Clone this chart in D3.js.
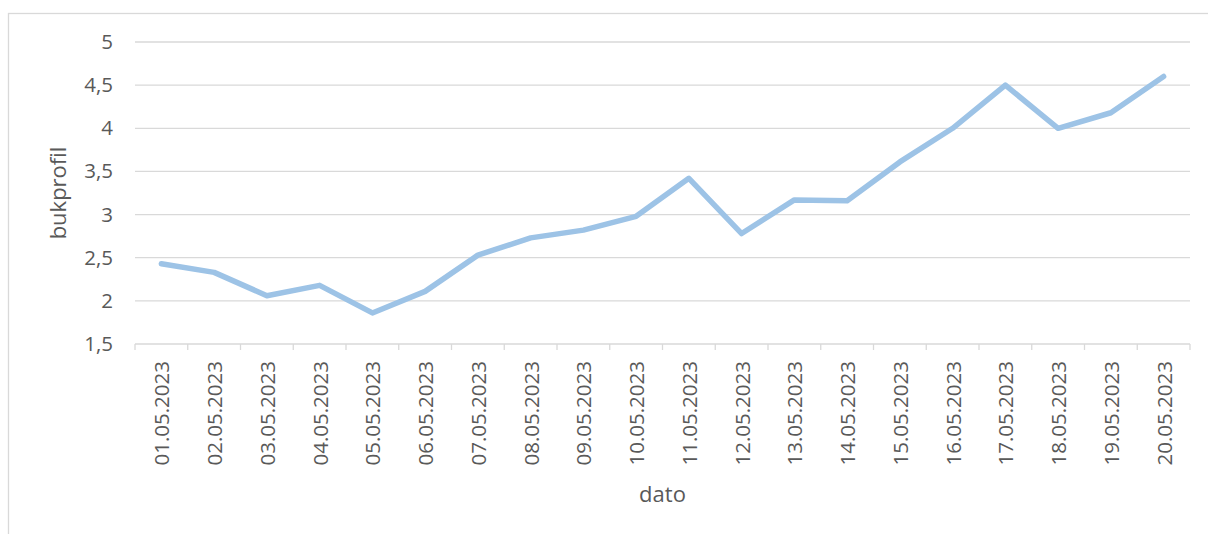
<!DOCTYPE html>
<html>
<head>
<meta charset="utf-8">
<script src="https://cdn.jsdelivr.net/npm/d3@7"></script>
<style>
  html, body { margin: 0; padding: 0; background: #fff; }
  svg { display: block; }
  text { font-family: "Open Sans", "Liberation Sans", sans-serif; fill: #595959; }
</style>
</head>
<body>
<svg id="chart" width="1208" height="534"></svg>
<script>
// Daily readings for May 2023
const dates = [
  "01.05.2023", "02.05.2023", "03.05.2023", "04.05.2023", "05.05.2023",
  "06.05.2023", "07.05.2023", "08.05.2023", "09.05.2023", "10.05.2023",
  "11.05.2023", "12.05.2023", "13.05.2023", "14.05.2023", "15.05.2023",
  "16.05.2023", "17.05.2023", "18.05.2023", "19.05.2023", "20.05.2023"
];
const bukprofil = [
  2.43, 2.33, 2.06, 2.18, 1.86,
  2.11, 2.53, 2.73, 2.82, 2.98,
  3.42, 2.78, 3.17, 3.16, 3.61,
  4.00, 4.50, 4.00, 4.18, 4.60
];
const yTicks = [1.5, 2, 2.5, 3, 3.5, 4, 4.5, 5];
const yTickLabels = ["1,5", "2", "2,5", "3", "3,5", "4", "4,5", "5"];
const xTitle = "dato";
const yTitle = "bukprofil";

const svg = d3.select("#chart");
const plot = { left: 135, right: 1190, top: 42, bottom: 344 };

// Outer chart frame
svg.append("rect")
  .attr("x", 8.5).attr("y", 13.5)
  .attr("width", 1260).attr("height", 600)
  .attr("fill", "none").attr("stroke", "#d9d9d9").attr("stroke-width", 1.3);

const x = d3.scaleBand().domain(dates).range([plot.left, plot.right]).padding(0);
const y = d3.scaleLinear().domain([1.5, 5]).range([plot.bottom, plot.top]);

// Horizontal gridlines
svg.append("g")
  .selectAll("line")
  .data(yTicks.filter(v => v > 1.5))
  .join("line")
  .attr("x1", plot.left).attr("x2", plot.right)
  .attr("y1", d => y(d)).attr("y2", d => y(d))
  .attr("stroke", "#d9d9d9").attr("stroke-width", 1.3);

// Y axis labels
const yAxis = d3.axisLeft(y)
  .tickValues(yTicks)
  .tickFormat((d, i) => yTickLabels[i])
  .tickSize(0).tickPadding(22);
const gy = svg.append("g").attr("transform", `translate(${plot.left},0)`).call(yAxis);
gy.select(".domain").remove();
gy.selectAll("text")
  .style("font-size", "20.5px")
  .style("font-family", "'Open Sans', sans-serif")
  .attr("fill", "#595959");

// X axis line with ticks at category boundaries
svg.append("line")
  .attr("x1", plot.left).attr("x2", plot.right)
  .attr("y1", plot.bottom).attr("y2", plot.bottom)
  .attr("stroke", "#d9d9d9").attr("stroke-width", 1.3);
const boundaries = dates.map(d => x(d)).concat([x(dates[dates.length - 1]) + x.bandwidth()]);
svg.append("g")
  .selectAll("line")
  .data(boundaries)
  .join("line")
  .attr("x1", d => d).attr("x2", d => d)
  .attr("y1", plot.bottom).attr("y2", plot.bottom + 6)
  .attr("stroke", "#d9d9d9").attr("stroke-width", 1.3);

// Rotated date labels
svg.append("g")
  .selectAll("text")
  .data(dates)
  .join("text")
  .attr("transform", d => `translate(${x(d) + x.bandwidth() / 2 + 8},${plot.bottom + 17}) rotate(-90)`)
  .attr("text-anchor", "end")
  .style("font-size", "20.5px")
  .text(d => d);

// Axis titles
svg.append("text")
  .attr("x", (plot.left + plot.right) / 2).attr("y", 502)
  .attr("text-anchor", "middle")
  .style("font-size", "22px")
  .text(xTitle);
svg.append("text")
  .attr("transform", `translate(66,${(plot.top + plot.bottom) / 2}) rotate(-90)`)
  .attr("text-anchor", "middle")
  .style("font-size", "22px")
  .text(yTitle);

// Series line
const line = d3.line()
  .x((d, i) => x(dates[i]) + x.bandwidth() / 2)
  .y(d => y(d));
svg.append("path")
  .datum(bukprofil)
  .attr("d", line)
  .attr("fill", "none")
  .attr("stroke", "#9dc3e6")
  .attr("stroke-width", 5.5)
  .attr("stroke-linejoin", "round")
  .attr("stroke-linecap", "round");
</script>
</body>
</html>
